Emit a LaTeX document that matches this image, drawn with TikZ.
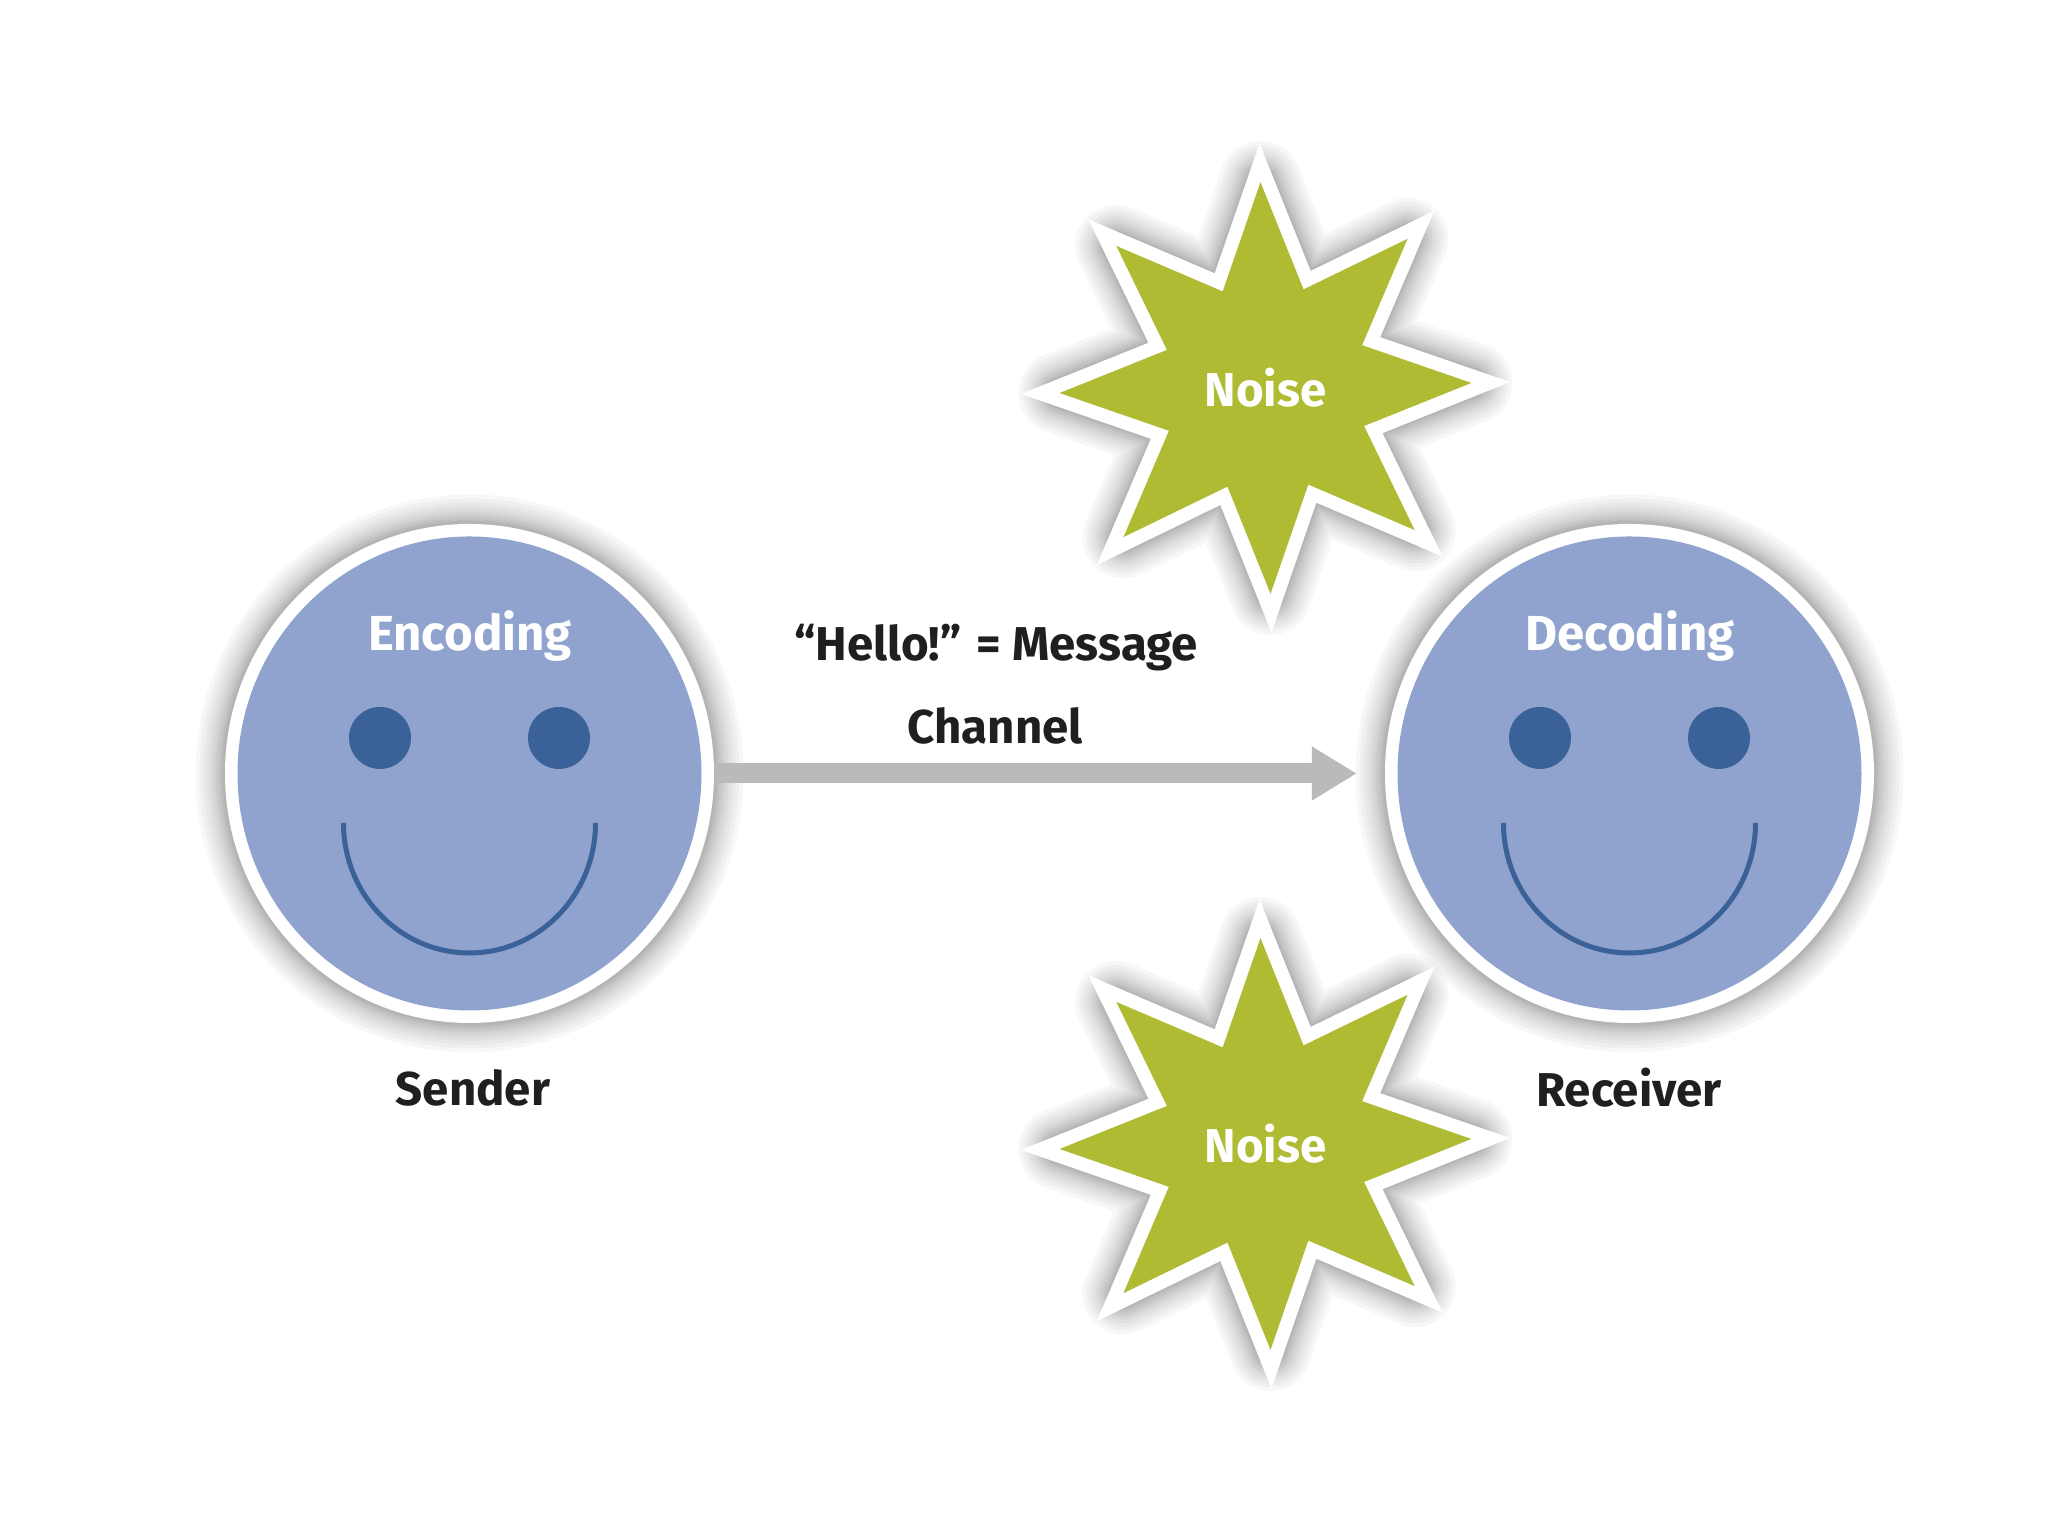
\documentclass[tikz,border=0pt]{standalone}
\usepackage{xcolor}
\usepackage{fontspec}
\setmainfont{Fira Sans}
\usetikzlibrary{shapes.geometric, arrows.meta}
\definecolor{facefill}{HTML}{8FA3CE}
\definecolor{facedark}{HTML}{3B6199}
\definecolor{noisefill}{HTML}{AEBB33}
\definecolor{chanfill}{HTML}{B9BABC}

\begin{document}
\begin{tikzpicture}[x=1cm, y=1cm,
  glow/.style={preaction={draw=black, draw opacity=.03, line join=round, line width=#1}},
  halo/.style={glow/.list={#1}},
  face/.style={ellipse, fill=facefill, minimum width=4.64cm, minimum height=4.74cm, inner sep=0pt,
    halo={.84cm,.76cm,.68cm,.61cm,.55cm,.49cm,.44cm,.40cm,.36cm,.33cm,.30cm},
    preaction={draw=white, line width=.25cm}},
  noisestar/.style={star, star points=8, star point ratio=1.95, shape border rotate=1.4,
    minimum size=4.12cm, inner sep=0pt, fill=noisefill, text=white, lab,
    halo={.82cm,.74cm,.67cm,.60cm,.54cm,.49cm,.44cm,.40cm,.36cm,.33cm,.30cm},
    preaction={draw=white, line width=.27cm, miter limit=10}},
  eye/.style={circle, fill=facedark, minimum size=.62cm, inner sep=0pt},
  smile/.style={draw=facedark, line width=.05cm},
  chan/.style={draw=chanfill, line width=.2cm, -{Triangle[length=.45cm, width=.51cm]}},
  lab/.style={font=\fontsize{13.5}{16}\selectfont\bfseries, inner sep=0pt},
  msg/.style={lab, text=black!88},
  facelab/.style={lab, font=\fontsize{14}{16}\selectfont\bfseries, text=white}]
  \useasboundingbox (0,0) rectangle (20.48,15.36);
  % the two faces
  \node[face] (sender) at (4.695,7.625) {};
  \node[face] (receiver) at (16.295,7.625) {};
  \node[eye] (senderl) at (3.80,7.98) {};
  \node[eye] (senderr) at (5.59,7.98) {};
  \node[eye] (receiverl) at (15.40,7.98) {};
  \node[eye] (receiverr) at (17.19,7.98) {};
  \draw[smile] (3.435,7.13) arc[start angle=180, end angle=360, x radius=1.26, y radius=1.30];
  \draw[smile] (15.035,7.13) arc[start angle=180, end angle=360, x radius=1.26, y radius=1.30];
  \node[facelab] (encoding) at (4.70,9.00) {Encoding};
  \node[facelab] (decoding) at (16.30,9.00) {Decoding};
  \node[msg] (senderlab) at (4.73,4.48) {Sender};
  \node[msg] (receiverlab) at (16.29,4.48) {Receiver};
  % noise
  \node[noisestar] (noisetop) at (12.655,11.48) {Noise};
  \node[noisestar] (noisebot) at (12.655,3.92) {Noise};
  % channel
  \draw[chan, shorten <=.12cm, shorten >=.40cm] (sender) -- (receiver);
  \node[msg] (message) at (9.96,8.88) {“Hello!” = Message};
  \node[msg] (channel) at (9.95,8.10) {Channel};
\end{tikzpicture}
\end{document}
